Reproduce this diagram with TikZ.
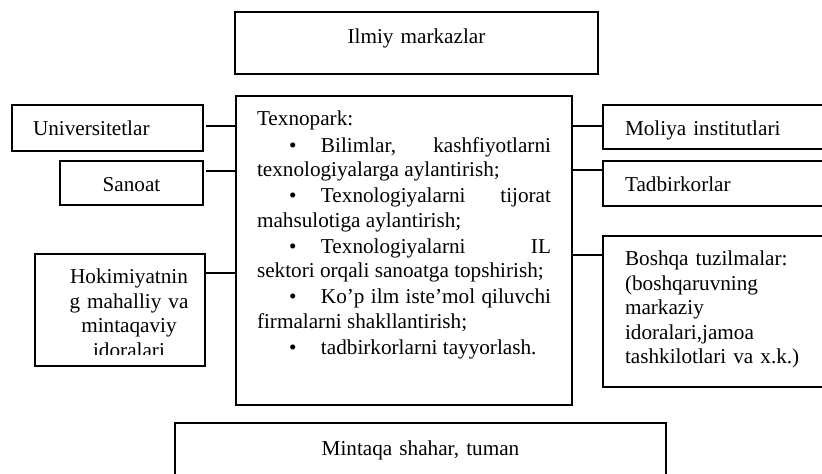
\documentclass[tikz,border=0pt]{standalone}
\usepackage{fontspec}
\setmainfont{Liberation Serif}
\usetikzlibrary{calc}
\tikzset{box/.style={draw, line width=1pt, outer sep=0pt, inner ysep=0pt, inner xsep=0pt, anchor=north west, font=\fontsize{10.6}{12.2}\selectfont},con/.style={line width=1pt}}
\newcommand{\bul}{\hspace*{16pt}\makebox[16pt][l]{\textbullet}}

\begin{document}
\begin{tikzpicture}[x=0.5pt, y=-0.5pt]
\clip (0,0) rectangle (822,474);
\node[box, text width=181.5pt, align=center, text height=15.65pt, text depth=15.35pt] (ilmiy) at (235,12) {Ilmiy markazlar};
\node[box, inner xsep=10.5pt, text width=147pt, align=justify, text height=15pt, text depth=139.5pt] (tp) at (236,96) {\setlength{\parskip}{0.9pt}Texnopark:\par
\bul Bilimlar, kashfiyotlarni\linebreak texnologiyalarga aylantirish;\par
\bul Texnologiyalarni tijorat\linebreak mahsulotiga aylantirish;\par
\bul Texnologiyalarni IL\linebreak sektori orqali sanoatga topshirish;\par
\bul Ko’p ilm iste’mol qiluvchi\linebreak firmalarni shakllantirish;\par
\bul tadbirkorlarni tayyorlash.};
\node[box, inner xsep=10.5pt, text width=74.5pt, align=left, text height=15pt, text depth=7.75pt] (univ) at (12,105.5) {Universitetlar};
\node[box, text width=71.5pt, align=center, text height=15.5pt, text depth=6.75pt] (sanoat) at (60,161) {Sanoat};
% last line is cut by the box, as in the source
\begin{scope}
\clip (0,0) rectangle (822,355);
\node[box, draw=none, text width=84.75pt, align=left, text height=15pt, text depth=41pt] (hokim) at (35,254) {\hspace*{11pt}\parbox[t]{72pt}{\centering Hokimiyatnin\\g mahalliy va\\mintaqaviy\\idoralari}};
\end{scope}
\draw[con] (hokim.north west) rectangle (hokim.south east);
\node[box, inner xsep=11pt, text width=96.5pt, align=left, text height=15.25pt, text depth=6.5pt] (moliya) at (603,105.5) {Moliya institutlari};
\node[box, inner xsep=11pt, text width=96.5pt, align=left, text height=15.5pt, text depth=7.25pt] (tadbir) at (603,161) {Tadbirkorlar};
\node[box, inner xsep=11pt, text width=96.5pt, align=left, text height=15pt, text depth=60.5pt] (boshqa) at (603,236) {Boshqa tuzilmalar:\\(boshqaruvning\\markaziy\\idoralari,jamoa\\tashkilotlari va x.k.)};
\node[box, text width=245.5pt, align=center, text height=16pt, text depth=30pt] (mintaqa) at (175,423) {Mintaqa shahar, tuman};
\draw[con, shorten <=1.5pt] (univ.east |- 0,126) -- (tp.west |- 0,126);
\draw[con, shorten <=1.5pt] (sanoat.east |- 0,171) -- (tp.west |- 0,171);
\draw[con] (hokim.east |- 0,273) -- (tp.west |- 0,273);
\draw[con] (tp.east |- 0,126.5) -- (moliya.west |- 0,126.5);
\draw[con] (tp.east |- 0,170.5) -- (tadbir.west |- 0,170.5);
\draw[con] (tp.east |- 0,255) -- (boshqa.west |- 0,255);
\end{tikzpicture}
\end{document}
